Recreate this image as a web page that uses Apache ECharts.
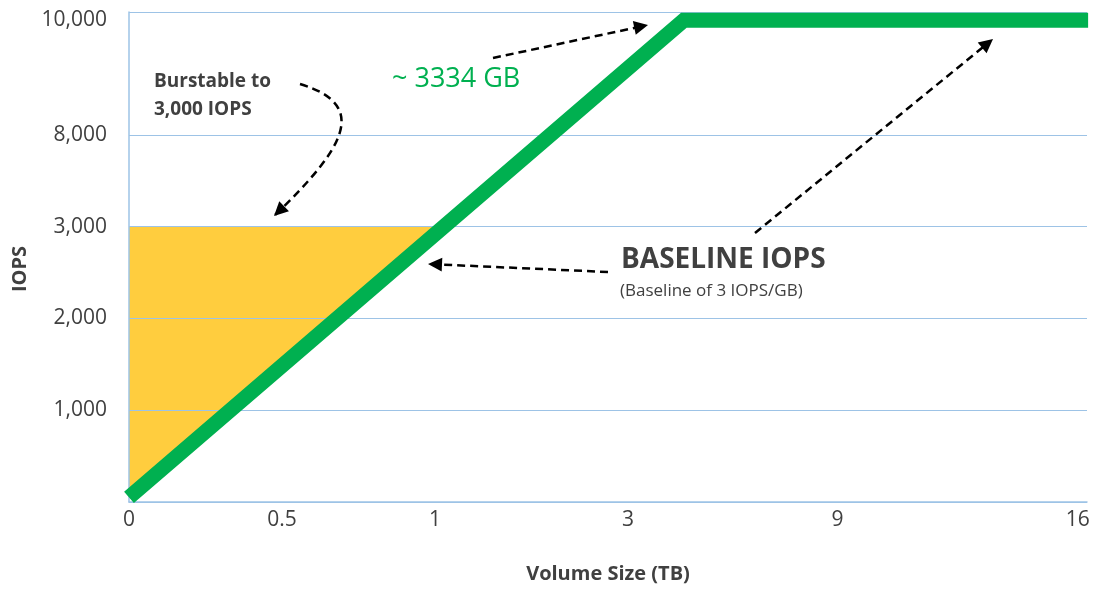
<!DOCTYPE html>
<html>
<head>
<meta charset="utf-8">
<script src="https://cdn.jsdelivr.net/npm/echarts@6/dist/echarts.min.js"></script>
<style>
  html, body { margin: 0; padding: 0; background: #ffffff; }
  #chart { width: 1093px; height: 589px; }
</style>
</head>
<body>
<div id="chart"></div>
<script>
// Axis ticks as printed: volume size in TB and IOPS
const sizeTicksTB = [0, 0.5, 1, 3, 9, 16];
const sizeTickLabels = ['0', '0.5', '1', '3', '9', '16'];
const iopsTicks = [0, 1000, 2000, 3000, 8000, 10000];
const iopsTickLabels = ['', '1,000', '2,000', '3,000', '8,000', '10,000'];

// Baseline IOPS curve: volume size (TB) -> IOPS
const baselineSizeTB = [0, 4.6, 16.3];
const baselineIOPS = [50, 10000, 10000];

// Burst ceiling for small volumes
const burstIOPS = 3000;

// Schematic (non-uniform) axis layout: where each tick sits along its axis
const sizeSlots = [0, 1, 2, 3.26, 4.63, 6.2];
const sizeAxisMax = 6.26;
const iopsSlots = [0, 1, 2, 3, 4, 5.25];
const iopsAxisMax = 5.34;

// Piecewise-linear mapping from a real value to its slot on the schematic axis
function toSlot(v, ticks, slots) {
  let i = 0;
  while (i < ticks.length - 2 && v > ticks[i + 1]) i++;
  const t = (v - ticks[i]) / (ticks[i + 1] - ticks[i]);
  return slots[i] + t * (slots[i + 1] - slots[i]);
}
const xPos = v => toSlot(v, sizeTicksTB, sizeSlots);
const yPos = v => toSlot(v, iopsTicks, iopsSlots);

function labelFor(value, slots, labels) {
  for (let i = 0; i < slots.length; i++) {
    if (Math.abs(slots[i] - value) < 1e-6) return labels[i];
  }
  return '';
}

const baselinePoints = baselineSizeTB.map((s, i) => [xPos(s), yPos(baselineIOPS[i])]);

// Burst area: between the IOPS axis, the 3,000 IOPS ceiling and the baseline curve
const burstY = yPos(burstIOPS);
const p0 = baselinePoints[0], p1 = baselinePoints[1];
const tCross = (burstY - p0[1]) / (p1[1] - p0[1]);
const crossX = p0[0] + tCross * (p1[0] - p0[0]);
const burstPolygon = [[0, p0[1]], [0, burstY], [crossX, burstY], [p0[0], p0[1]]];

const gridBlue = '#9DC3E6';
const textGray = '#404040';
const green = '#00B050';
const gold = '#FFCD3E';
const FONT = '"Open Sans", "DejaVu Sans", sans-serif';

// Dashed arrow helpers (annotation overlays)
function arrowHead(tip, dir, len, width) {
  const d = Math.hypot(dir[0], dir[1]);
  const ux = dir[0] / d, uy = dir[1] / d;
  const px = -uy, py = ux;
  const bx = tip[0] - ux * len, by = tip[1] - uy * len;
  return {
    type: 'polygon', silent: true, z: 20,
    shape: { points: [tip, [bx + px * width / 2, by + py * width / 2], [bx - px * width / 2, by - py * width / 2]] },
    style: { fill: '#000' }
  };
}
const dashStyle = { stroke: '#000', lineWidth: 2.5, lineDash: [8, 5], fill: null };
function straightArrow(from, tip) {
  const dir = [tip[0] - from[0], tip[1] - from[1]];
  const d = Math.hypot(dir[0], dir[1]);
  const end = [tip[0] - dir[0] / d * 8, tip[1] - dir[1] / d * 8];
  return [
    { type: 'line', silent: true, z: 20, shape: { x1: from[0], y1: from[1], x2: end[0], y2: end[1] }, style: dashStyle },
    arrowHead(tip, dir, 14, 14)
  ];
}
function curvedArrow(from, cp1, cp2, tip) {
  return [
    { type: 'bezierCurve', silent: true, z: 20,
      shape: { x1: from[0], y1: from[1], cpx1: cp1[0], cpy1: cp1[1], cpx2: cp2[0], cpy2: cp2[1], x2: tip[0], y2: tip[1] },
      style: dashStyle },
    arrowHead(tip, [tip[0] - cp2[0], tip[1] - cp2[1]], 14, 14)
  ];
}
function text(x, y, str, size, weight, color) {
  return {
    type: 'text', silent: true, z: 20, x: x, y: y,
    style: { text: str, fill: color, fontSize: size, fontWeight: weight, fontFamily: FONT, align: 'left', verticalAlign: 'middle' }
  };
}

const chart = echarts.init(document.getElementById('chart'), null, { renderer: 'canvas' });

chart.setOption({
  animation: false,
  backgroundColor: '#ffffff',
  grid: { left: 129, right: 6, top: 12, bottom: 86 },
  xAxis: {
    type: 'value',
    min: 0,
    max: sizeAxisMax,
    name: 'Volume Size (TB)',
    nameLocation: 'middle',
    nameGap: 62,
    nameTextStyle: { fontFamily: FONT, fontSize: 20, fontWeight: 'bold', color: textGray },
    axisLine: { show: true, lineStyle: { color: gridBlue, width: 1.5 } },
    axisTick: { show: false, customValues: sizeSlots },
    axisLabel: {
      customValues: sizeSlots,
      margin: 8,
      fontFamily: FONT, fontSize: 21, color: textGray,
      formatter: v => labelFor(v, sizeSlots, sizeTickLabels)
    },
    splitLine: { show: false }
  },
  yAxis: {
    type: 'value',
    min: 0,
    max: iopsAxisMax,
    name: 'IOPS',
    nameLocation: 'middle',
    nameRotate: 90,
    nameGap: 96,
    nameTextStyle: { fontFamily: FONT, fontSize: 20, fontWeight: 'bold', color: textGray, padding: [0, 24, 0, 0] },
    axisLine: { show: true, lineStyle: { color: gridBlue, width: 1.5 } },
    axisTick: { show: false, customValues: [0, 1, 2, 3, 4, iopsAxisMax] },
    axisLabel: {
      customValues: iopsSlots.slice(1),
      margin: 22,
      fontFamily: FONT, fontSize: 21, color: textGray,
      formatter: v => labelFor(v, iopsSlots, iopsTickLabels)
    },
    splitLine: { show: true, lineStyle: { color: gridBlue, width: 1.2 } }
  },
  series: [
    {
      name: 'Burst',
      type: 'custom',
      z: -1,
      silent: true,
      data: burstPolygon,
      renderItem: function (params, api) {
        if (params.dataIndex !== 0) return;
        return {
          type: 'polygon',
          shape: { points: burstPolygon.map(p => api.coord(p)) },
          style: { fill: gold }
        };
      }
    },
    {
      name: 'Baseline IOPS',
      type: 'line',
      data: baselinePoints,
      symbol: 'none',
      clip: false,
      z: 5,
      lineStyle: { color: green, width: 15, join: 'miter', cap: 'butt' }
    }
  ],
  graphic: [
    text(154, 82, 'Burstable to', 19, 'bold', textGray),
    text(154, 110, '3,000 IOPS', 19, 'bold', textGray),
    text(392, 79, '~ 3334 GB', 27, 'normal', green),
    text(621, 260, 'BASELINE IOPS', 28, 'bold', textGray),
    text(620, 291, '(Baseline of 3 IOPS/GB)', 17, 'normal', textGray),
    ...curvedArrow([300, 84], [370, 105], [345, 148], [274, 216]),
    ...straightArrow([493, 58], [648, 25]),
    ...straightArrow([755, 233], [993, 39]),
    ...straightArrow([608, 272], [428, 264])
  ]
});
</script>
</body>
</html>
